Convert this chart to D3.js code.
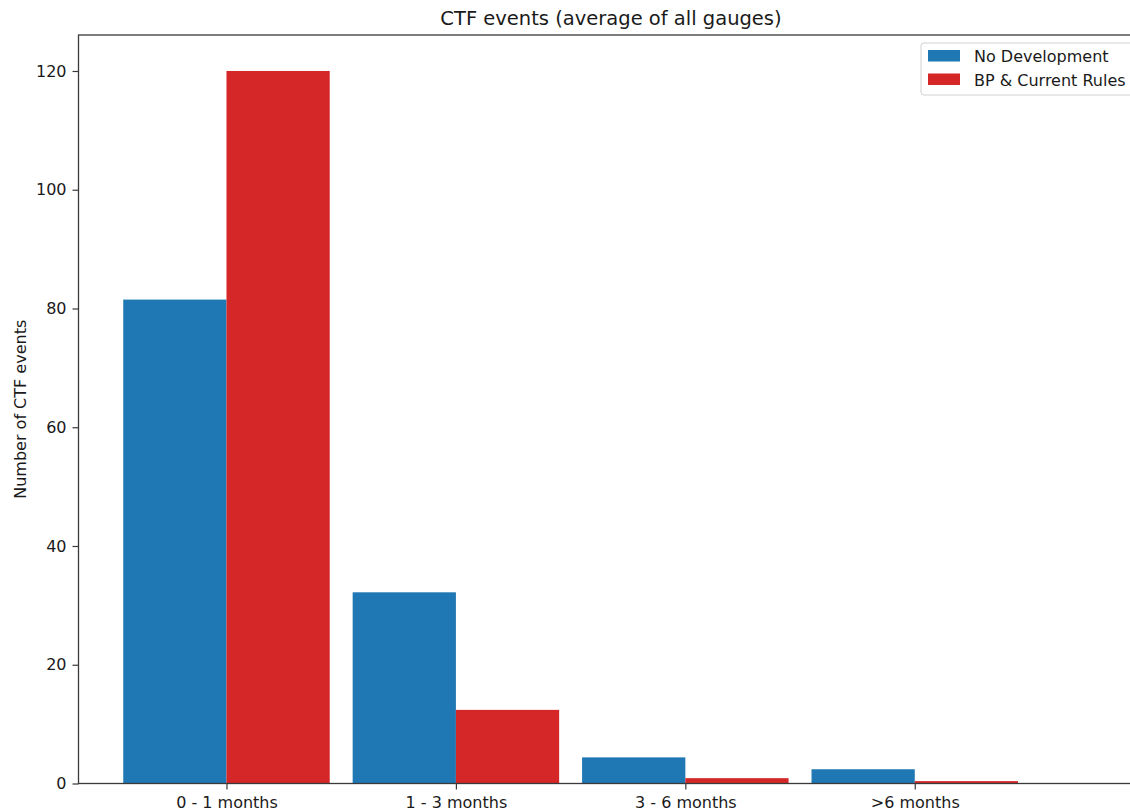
<!DOCTYPE html>
<html>
<head>
<meta charset="utf-8">
<script src="https://cdn.jsdelivr.net/npm/d3@7"></script>
<style>
  html, body { margin: 0; padding: 0; background: #fff; }
  svg { display: block; font-family: "DejaVu Sans", sans-serif; }
</style>
</head>
<body>
<svg id="chart" width="1130" height="810"></svg>
<script>
// Duration classes of CTF events and the two scenarios compared
const categories = ["0 - 1 months", "1 - 3 months", "3 - 6 months", ">6 months"];
const seriesNames = ["No Development", "BP & Current Rules"];
const noDevelopment = [81.5, 32.2, 4.4, 2.4];
const bpCurrentRules = [120, 12.4, 0.9, 0.4];
const yTicks = [0, 20, 40, 60, 80, 100, 120];

const colors = ["#1f77b4", "#d62728"];
const series = [noDevelopment, bpCurrentRules];

const svg = d3.select("#chart");
const margin = { left: 78.5, top: 35, right: 1143.5, bottom: 783.5 };
const barWidth = 0.45;

// numeric category positions, bars sit either side of each tick
const x = d3.scaleLinear().domain([-0.645, 3.997]).range([margin.left, margin.right]);
const y = d3.scaleLinear().domain([0, 126.06]).range([margin.bottom, margin.top]);

// bars
series.forEach((vals, si) => {
  svg.append("g").selectAll("rect")
    .data(vals)
    .join("rect")
    .attr("x", (d, i) => x(i + (si === 0 ? -barWidth : 0)))
    .attr("width", x(barWidth) - x(0))
    .attr("y", d => y(d))
    .attr("height", d => y(0) - y(d))
    .attr("fill", colors[si]);
});

// axes
const axisColor = "#3a3a3a";
const yAxis = d3.axisLeft(y).tickValues(yTicks).tickSize(6).tickPadding(6).tickFormat(d3.format("d"));
const gy = svg.append("g").attr("transform", `translate(${margin.left},0)`).call(yAxis);
const xAxis = d3.axisBottom(x).tickValues(d3.range(categories.length)).tickSize(6).tickPadding(7)
  .tickFormat(i => categories[i]);
const gx = svg.append("g").attr("transform", `translate(0,${margin.bottom})`).call(xAxis);

[gx, gy].forEach(g => {
  g.select(".domain").remove();
  g.selectAll(".tick line").attr("stroke", axisColor).attr("stroke-width", 1.2);
  g.selectAll(".tick text").attr("fill", "#1a1a1a").style("font-size", "16px")
    .style("font-family", "'DejaVu Sans', sans-serif");
});

// frame (spines)
svg.append("rect")
  .attr("x", margin.left).attr("y", margin.top)
  .attr("width", margin.right - margin.left).attr("height", margin.bottom - margin.top)
  .attr("fill", "none").attr("stroke", axisColor).attr("stroke-width", 1.3);

// title
svg.append("text")
  .attr("x", (margin.left + margin.right) / 2).attr("y", 25)
  .attr("text-anchor", "middle").style("font-size", "19.5px").attr("fill", "#1a1a1a")
  .text("CTF events (average of all gauges)");

// y-axis label
svg.append("text")
  .attr("transform", `translate(26,${(margin.top + margin.bottom) / 2}) rotate(-90)`)
  .attr("text-anchor", "middle").style("font-size", "16px").attr("fill", "#1a1a1a")
  .text("Number of CTF events");

// legend
const lg = svg.append("g").attr("transform", "translate(921,43)");
lg.append("rect").attr("width", 240).attr("height", 52).attr("rx", 3)
  .attr("fill", "#fff").attr("stroke", "#d0d0d0").attr("stroke-width", 1);
seriesNames.forEach((name, i) => {
  lg.append("rect").attr("x", 7).attr("y", 7 + i * 23.5).attr("width", 32).attr("height", 11.5)
    .attr("fill", colors[i]);
  lg.append("text").attr("x", 53).attr("y", 19 + i * 23.5)
    .style("font-size", "16px").attr("fill", "#1a1a1a").text(name);
});
</script>
</body>
</html>
